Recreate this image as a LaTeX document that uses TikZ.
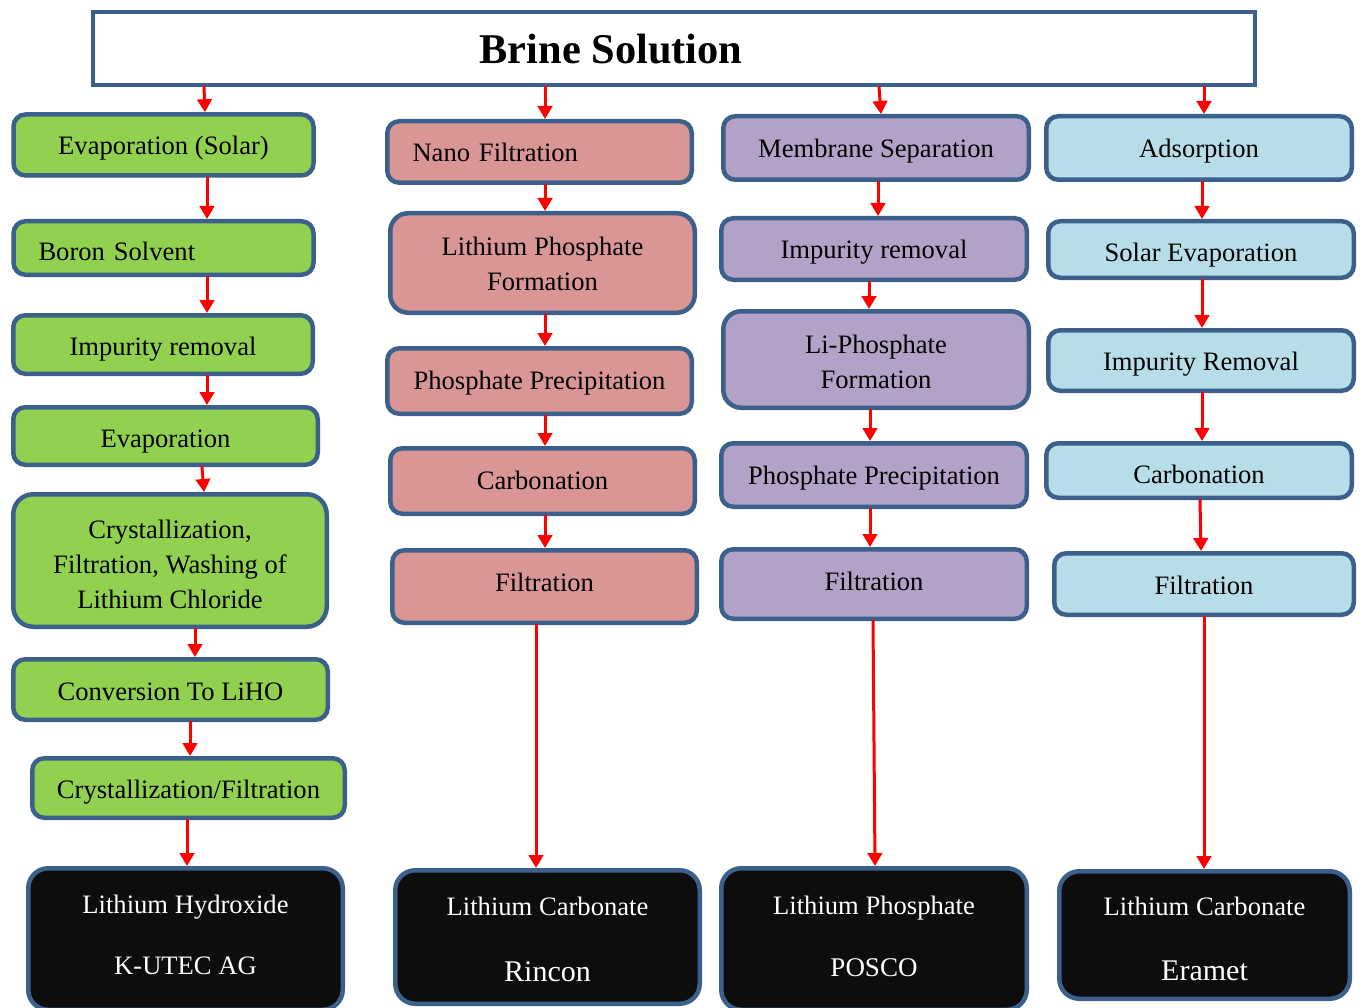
\documentclass[tikz,border=0pt]{standalone}
\usepackage{fontspec}
\setmainfont{Liberation Serif}
\usetikzlibrary{arrows.meta}
\definecolor{bord}{HTML}{3C608C}
\definecolor{gfill}{HTML}{92D050}
\definecolor{pfill}{HTML}{D99694}
\definecolor{ufill}{HTML}{B3A2C7}
\definecolor{bfill}{HTML}{B7DEE8}
\definecolor{kfill}{HTML}{0D0D0D}
\definecolor{arrred}{HTML}{FF0000}
\newcommand{\boxfont}{\fontsize{26.6}{35}\selectfont}
\newcommand{\bigline}{\fontsize{30}{35}\selectfont}
\tikzset{
  box/.style={draw=bord, line width=4.5pt, rounded corners=12pt, align=center, inner sep=0pt,
    font=\boxfont},
  bigbox/.style={box, rounded corners=20pt},
  gbox/.style={box, fill=gfill},
  pbox/.style={box, fill=pfill},
  ubox/.style={box, fill=ufill},
  bbox/.style={box, fill=bfill},
  kbox/.style={bigbox, fill=kfill},
  intext/.style={font=\boxfont, align=center, inner sep=0pt},
  arr/.style={draw=arrred, line width=3pt, shorten <=-1pt,
    -{Triangle[width=14.5pt,length=13pt]}},
}
\begin{document}
\begin{tikzpicture}[x=1pt,y=-1pt]
\useasboundingbox (0,0) rectangle (1364,1008);
% top
\node[draw=bord, line width=4pt, fill=white, minimum width=1162pt, minimum height=73pt] (top) at (674,48.5) {};
\node[font=\fontsize{42.4}{50}\selectfont\bfseries] (title) at (611,49) {Brine Solution};
% column 1
\node[gbox, minimum width=300pt, minimum height=61pt, text height=21.5pt, text depth=2.5pt] (g1) at (163.5,145) {Evaporation (Solar)};
\node[gbox, minimum width=300pt, minimum height=53.5pt, text width=250pt, align=left, text height=24.5pt, text depth=-0.5pt] (g2) at (163.5,248) {Boron Solvent};
\node[gbox, minimum width=299.5pt, minimum height=58.5pt, text height=23pt, text depth=1pt] (g3) at (163,344.5) {Impurity removal};
\node[gbox, minimum width=304.5pt, minimum height=57.5pt, text height=23.5pt, text depth=0.5pt] (g4) at (165.5,436) {Evaporation};
\node[gbox, bigbox, minimum width=313.5pt, minimum height=132.5pt] (g5) at (170,560.5) {};
\node[intext] (g5t) at (170,564.5) {Crystallization,\\Filtration, Washing of\\Lithium Chloride};
\node[gbox, minimum width=314.5pt, minimum height=60.5pt, text height=23pt, text depth=1pt] (g6) at (170.5,689.5) {Conversion To LiHO};
\node[gbox, minimum width=312.5pt, minimum height=59.5pt, text height=22.5pt, text depth=1.5pt] (g7) at (188.5,788) {Crystallization/Filtration};
\node[kbox, minimum width=314.5pt, minimum height=141.5pt] (k1) at (185.5,939) {};
\node[intext, text=white] (k1t) at (185.5,935) {Lithium Hydroxide\\[26pt]K-UTEC AG};
% column 2
\node[pbox, minimum width=304.5pt, minimum height=61.5pt, text width=254pt, align=left, text height=21.5pt, text depth=2.5pt] (p1) at (539.5,152) {Nano Filtration};
\node[pbox, rounded corners=18pt, minimum width=304.5pt, minimum height=99.5pt] (p2) at (542.5,263) {};
\node[intext] (p2t) at (542.5,264) {Lithium Phosphate\\Formation};
\node[pbox, minimum width=304.5pt, minimum height=65.5pt, text height=20.5pt, text depth=3.5pt] (p3) at (539.5,381) {Phosphate Precipitation};
\node[pbox, minimum width=304.5pt, minimum height=65.5pt, text height=20.5pt, text depth=3.5pt] (p4) at (542.5,481) {Carbonation};
\node[pbox, minimum width=304.5pt, minimum height=72.5pt, text height=17pt, text depth=7pt] (p5) at (544.5,586.5) {Filtration};
\node[kbox, minimum width=304.5pt, minimum height=133.5pt] (k2) at (547.5,937) {};
\node[intext, text=white] (k2t) at (547.5,939.5) {Lithium Carbonate\\[31pt]{\bigline Rincon}};
% column 3
\node[ubox, minimum width=305.5pt, minimum height=63.5pt, text height=21.5pt, text depth=2.5pt] (u1) at (876,148) {Membrane Separation};
\node[ubox, minimum width=305.5pt, minimum height=61.5pt, text height=21.5pt, text depth=2.5pt] (u2) at (874,249) {Impurity removal};
\node[ubox, rounded corners=18pt, minimum width=305.5pt, minimum height=96.5pt] (u3) at (876,359.5) {};
\node[intext] (u3t) at (876,361.5) {Li-Phosphate\\Formation};
\node[ubox, minimum width=305.5pt, minimum height=63.5pt, text height=21.5pt, text depth=2.5pt] (u4) at (874,475) {Phosphate Precipitation};
\node[ubox, minimum width=305.5pt, minimum height=69.5pt, text height=18.5pt, text depth=5.5pt] (u5) at (874,584) {Filtration};
\node[kbox, minimum width=305.5pt, minimum height=141.5pt] (k3) at (874,939) {};
\node[intext, text=white] (k3t) at (874,936) {Lithium Phosphate\\[27pt]{\fontsize{27}{35}\selectfont POSCO}};
% column 4
\node[bbox, minimum width=305.5pt, minimum height=63.5pt, text height=21.5pt, text depth=2.5pt] (b1) at (1199,148) {Adsorption};
\node[bbox, minimum width=305.5pt, minimum height=56.5pt, text height=24pt, text depth=0pt] (b2) at (1201,249.5) {Solar Evaporation};
\node[bbox, minimum width=305.5pt, minimum height=60.5pt, text height=22pt, text depth=2pt] (b3) at (1201,360.5) {Impurity Removal};
\node[bbox, minimum width=305.5pt, minimum height=54.5pt, text height=25pt, text depth=-1pt] (b4) at (1199,470.5) {Carbonation};
\node[bbox, minimum width=299.5pt, minimum height=61.5pt, text height=22.5pt, text depth=1.5pt] (b5) at (1204,584) {Filtration};
\node[kbox, minimum width=290.5pt, minimum height=127.5pt] (k4) at (1204.5,935) {};
\node[intext, text=white] (k4t) at (1204.5,938.5) {Lithium Carbonate\\[30pt]{\bigline Eramet}};
% arrows column 1
\draw[arr] (top.south -| 204,0) -- (g1.north -| 205,0);
\draw[arr] (g1.south -| 207,0) -- (g2.north -| 207,0);
\draw[arr] (g2.south -| 207,0) -- (g3.north -| 207,0);
\draw[arr] (g3.south -| 207,0) -- (g4.north -| 207,0);
\draw[arr] (g4.south -| 202,0) -- (g5.north -| 204,0);
\draw[arr] (g5.south -| 195,0) -- (g6.north -| 195,0);
\draw[arr] (g6.south -| 190,0) -- (g7.north -| 190,0);
\draw[arr] (g7.south -| 187,0) -- (k1.north -| 187,0);
% arrows column 2
\draw[arr] (top.south -| 545,0) -- (p1.north -| 545,0);
\draw[arr] (p1.south -| 545,0) -- (p2.north -| 545,0);
\draw[arr] (p2.south -| 545,0) -- (p3.north -| 545,0);
\draw[arr] (p3.south -| 545,0) -- (p4.north -| 545,0);
\draw[arr] (p4.south -| 545,0) -- (p5.north -| 545,0);
\draw[arr] (p5.south -| 536,0) -- (k2.north -| 536,0);
% arrows column 3
\draw[arr] (top.south -| 879,0) -- (u1.north -| 881,0);
\draw[arr] (u1.south -| 878,0) -- (u2.north -| 878,0);
\draw[arr] (u2.south -| 869,0) -- (u3.north -| 869,0);
\draw[arr] (u3.south -| 870,0) -- (u4.north -| 870,0);
\draw[arr] (u4.south -| 870,0) -- (u5.north -| 870,0);
\draw[arr] (u5.south -| 873,0) -- (k3.north -| 875,0);
% arrows column 4
\draw[arr] (top.south -| 1204,0) -- (b1.north -| 1204,0);
\draw[arr] (b1.south -| 1202,0) -- (b2.north -| 1202,0);
\draw[arr] (b2.south -| 1202,0) -- (b3.north -| 1202,0);
\draw[arr] (b3.south -| 1202,0) -- (b4.north -| 1202,0);
\draw[arr] (b4.south -| 1200,0) -- (b5.north -| 1201,0);
\draw[arr] (b5.south -| 1204,0) -- (k4.north -| 1204,0);
\end{tikzpicture}
\end{document}
